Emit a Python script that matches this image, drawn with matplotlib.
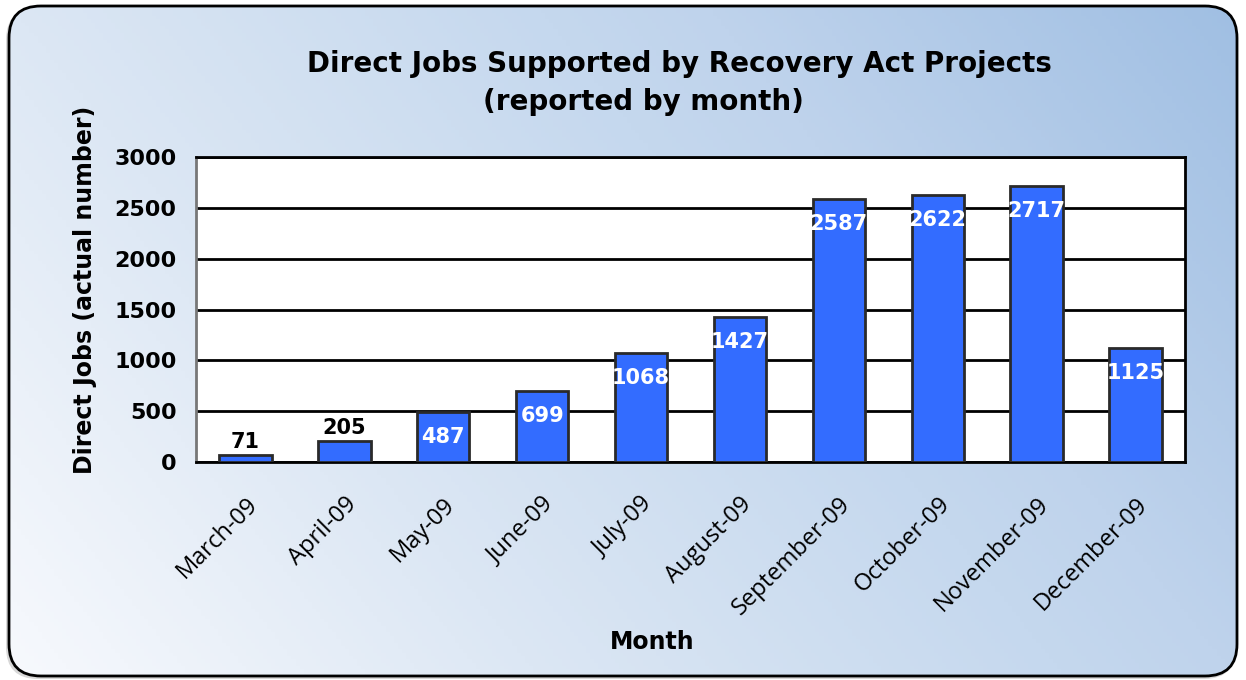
import matplotlib
matplotlib.use('Agg')
import matplotlib.pyplot as plt
import numpy as np
from matplotlib.colors import LinearSegmentedColormap
from matplotlib.patches import FancyBboxPatch

months = ['March-09', 'April-09', 'May-09', 'June-09', 'July-09', 'August-09',
          'September-09', 'October-09', 'November-09', 'December-09']
jobs = [71, 205, 487, 699, 1068, 1427, 2587, 2622, 2717, 1125]
yticks = [0, 500, 1000, 1500, 2000, 2500, 3000]

W, H = 1246, 680
fig = plt.figure(figsize=(W / 100, H / 100), dpi=100)
fig.patch.set_facecolor('white')

# gradient background inside a rounded frame
bg = fig.add_axes([0, 0, 1, 1])
bg.set_xlim(0, W)
bg.set_ylim(0, H)
bg.axis('off')
gx, gy = np.meshgrid(np.linspace(0, 1, 300), np.linspace(0, 1, 200))
grad = gx * 0.7 + gy * 0.3
cm = LinearSegmentedColormap.from_list(
    'bg', [(0, '#f7f9fd'), (0.3, '#dce7f4'), (0.6, '#c5d8ee'), (0.7, '#bfd3ec'), (1, '#a0bfe3')])
frame = FancyBboxPatch((9, 4), W - 18, H - 10, boxstyle='round,pad=0,rounding_size=32',
                       facecolor='none', edgecolor='black', linewidth=2, zorder=3)
shadow = FancyBboxPatch((6, 1), W - 16, H - 9, boxstyle='round,pad=0,rounding_size=32',
                        facecolor='#d8d8d8', edgecolor='none', zorder=0)
bg.add_patch(shadow)
im = bg.imshow(grad, cmap=cm, extent=[9, W - 9, 4, H - 6], origin='lower',
               aspect='auto', zorder=1)
im.set_clip_path(frame)
bg.add_patch(frame)

ax = fig.add_axes([196 / W, 1 - 462 / H, (1185 - 196) / W, (462 - 157) / H])
ax.set_facecolor('white')
x = np.arange(len(months))
ax.set_axisbelow(True)
ax.yaxis.grid(True, color='black', linewidth=2)
bars = ax.bar(x, jobs, width=0.53, color='#336cff', edgecolor='#2a2a2a', linewidth=2, zorder=3)
ax.set_xlim(-0.5, len(months) - 0.5)
ax.set_ylim(0, 3000)
ax.set_yticks(yticks)
ax.set_yticklabels([str(v) for v in yticks], fontsize=16, fontweight='bold', family='DejaVu Sans')
ax.set_xticks(x)
ax.set_xticklabels(months, rotation=45, ha='right', rotation_mode='anchor',
                   fontsize=17, family='Open Sans')
ax.tick_params(axis='y', length=0, pad=14)
ax.tick_params(axis='x', length=0, pad=22)
for s in ax.spines.values():
    s.set_linewidth(2)
    s.set_color('black')
ax.spines['left'].set_color('#777777')

for b, v in zip(bars, jobs):
    cx = b.get_x() + b.get_width() / 2
    if v < 300:
        ax.annotate(str(v), (cx, v), xytext=(0, 2), textcoords='offset points',
                    ha='center', va='bottom', fontsize=15, fontweight='bold',
                    family='DejaVu Sans', color='black', zorder=5)
    else:
        ax.annotate(str(v), (cx, v), xytext=(0, -18), textcoords='offset points',
                    ha='center', va='center', fontsize=15, fontweight='bold',
                    family='DejaVu Sans', color='white', zorder=5)

ax.set_ylabel('Direct Jobs (actual number)', fontsize=17, fontweight='bold',
              family='DejaVu Sans')
ax.yaxis.set_label_coords(-0.100, 0.564)
ax.set_xlabel('Month', fontsize=17, fontweight='bold', family='DejaVu Sans')
ax.xaxis.set_label_coords(0.461, -0.55)

fig.text(679 / W, 1 - 64 / H, 'Direct Jobs Supported by Recovery Act Projects',
         ha='center', va='center', fontsize=20, fontweight='bold', family='DejaVu Sans')
fig.text(643 / W, 1 - 102 / H, '(reported by month)',
         ha='center', va='center', fontsize=20, fontweight='bold', family='DejaVu Sans')

fig.savefig('out.png', dpi=100)
